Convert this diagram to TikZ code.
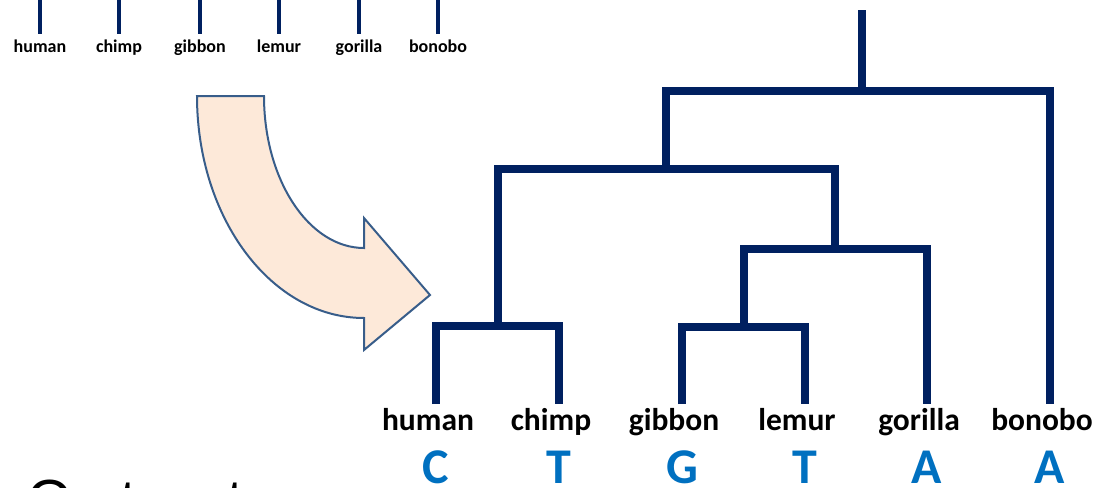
\documentclass[tikz,border=0pt]{standalone}
\usepackage{fontspec}
\setmainfont{Carlito}
\newfontfamily\slidefont{Liberation Sans}
\usetikzlibrary{positioning}

\definecolor{treeblue}{RGB}{0,32,96}
\definecolor{basecol}{RGB}{0,112,192}
\definecolor{arrowfill}{RGB}{253,233,217}
\definecolor{arrowline}{RGB}{56,93,138}

\tikzset{
  branch/.style={draw=treeblue, line width=8pt},
  twig/.style={draw=treeblue, line width=4.5pt},
  species/.style={font=\fontsize{31.5}{36}\selectfont\bfseries, inner xsep=0pt, inner ysep=4pt, text height=22pt, text depth=7pt},
  small species/.style={font=\fontsize{18}{20}\selectfont\bfseries, inner xsep=0pt, inner ysep=5pt, text height=13pt, text depth=4pt},
  basechar/.style={font=\fontsize{50}{56}\selectfont\bfseries, text=basecol, anchor=base, inner sep=0pt},
}

\begin{document}
\begin{tikzpicture}[x=1pt, y=-1pt]
    \useasboundingbox (0,0) rectangle (1094,487);
    \clip (0,0) rectangle (1094,487);

    % Small tree: just the leaves with their names
    \foreach \animal/\xpos in {human/40, chimp/119, gibbon/200, lemur/279, gorilla/359, bonobo/438} {
        \coordinate (s-\animal-top) at (\xpos,0);
        \node[small species, below=34pt of s-\animal-top] (s-\animal) {\animal};
        \draw[twig] (s-\animal-top) -- (s-\animal);
    }

    % Curved block arrow
    \draw[arrowline, fill=arrowfill, line width=2pt, line join=miter]
        (197,96) -- (264,96) .. controls (264,180) and (309,248) .. (364,248)
        -- (364,218) -- (430,295) -- (364,350) -- (364,318)
        .. controls (272,318) and (197,219) .. (197,96) -- cycle;

    % Big tree: leaf tips, names and bases
    \foreach \animal/\tip/\xpos/\letter in {human/hu/436/C, chimp/ch/559/T, gibbon/gi/682/G, lemur/le/805/T, gorilla/go/927/A, bonobo/bo/1050/A} {
        \coordinate (\tip) at (\xpos,404);
        \node[species, below=0pt of \tip, xshift=-8pt] (\animal) {\animal};
        \node[basechar] (\tip-base) at (\xpos,483) {\letter};
    }

    % Internal nodes
    \coordinate (hc) at (497.5,326);
    \coordinate (gl) at (743.5,327);
    \coordinate (glgo) at (835,249);
    \coordinate (hcglgo) at (666,169);
    \coordinate (root) at (862,91);
    \coordinate (root-top) at (862,10);

    % Branches
    \draw[branch] (hu) |- (hc) -| (ch);
    \draw[branch] (gi) |- (gl) -| (le);
    \draw[branch] (gl) |- (glgo) -| (go);
    \draw[branch] (hc) |- (hcglgo) -| (glgo);
    \draw[branch] (hcglgo) |- (root) -| (bo);
    \draw[branch] (root) -- (root-top);

    % Text running off the bottom
    \node[font=\slidefont\fontsize{58}{62}\selectfont, anchor=base west, inner sep=0pt] (caption) at (27.2,520) {On two trees};
\end{tikzpicture}
\end{document}
